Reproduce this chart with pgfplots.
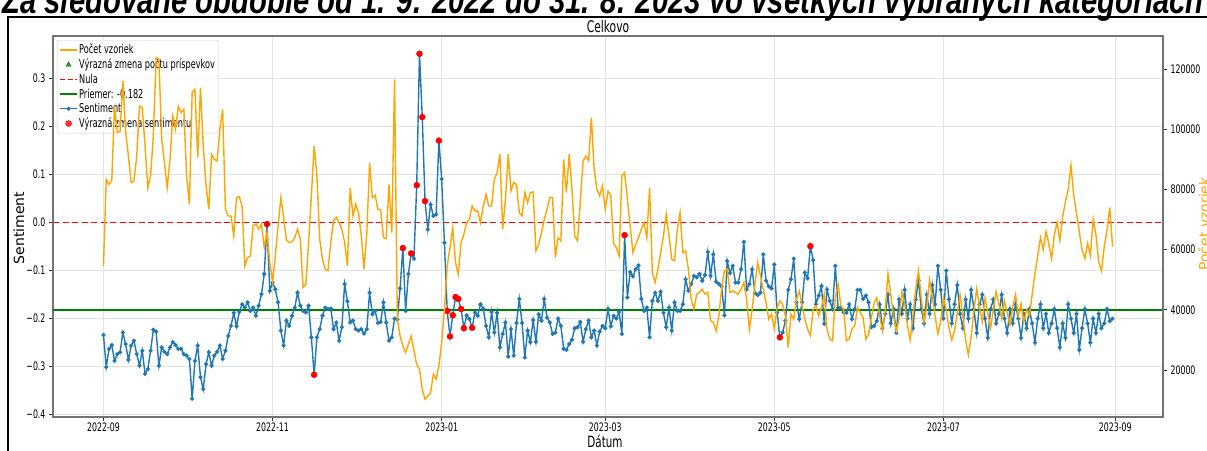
\documentclass[border=0pt]{standalone}
\usepackage{graphicx}
\usepackage{pgfplots}
\usepackage{pgfplotstable}
\pgfplotsset{compat=1.18}
\usepackage{fontspec}
\setmainfont{DejaVu Sans}
\newfontfamily\suptitlefont{Liberation Sans}
\newcommand{\sq}[1]{\scalebox{0.67}[1.0]{#1}}
\definecolor{mplblue}{HTML}{1F77B4}
\definecolor{mplorange}{HTML}{FFA500}
\definecolor{mplgreen}{HTML}{008000}
\definecolor{mplred}{HTML}{FF0000}

\pgfplotstableread{
d s
0 -0.234
1 -0.301
2 -0.263
3 -0.255
4 -0.288
5 -0.274
6 -0.270
7 -0.229
8 -0.253
9 -0.286
10 -0.256
11 -0.246
12 -0.274
13 -0.298
14 -0.267
15 -0.315
16 -0.305
17 -0.267
18 -0.223
19 -0.227
20 -0.298
21 -0.260
22 -0.269
23 -0.274
24 -0.260
25 -0.249
26 -0.255
27 -0.263
28 -0.263
29 -0.274
30 -0.277
31 -0.284
32 -0.367
33 -0.288
34 -0.256
35 -0.322
36 -0.347
37 -0.295
38 -0.270
39 -0.298
40 -0.277
41 -0.269
42 -0.256
43 -0.284
44 -0.267
45 -0.236
46 -0.215
47 -0.188
48 -0.216
49 -0.186
50 -0.170
51 -0.177
52 -0.166
53 -0.184
54 -0.177
55 -0.194
56 -0.173
57 -0.149
58 -0.107
59 -0.003
60 -0.142
61 -0.125
62 -0.139
63 -0.166
64 -0.225
65 -0.256
66 -0.204
67 -0.215
68 -0.194
69 -0.177
70 -0.146
71 -0.173
72 -0.184
73 -0.187
74 -0.173
75 -0.239
76 -0.317
77 -0.239
78 -0.222
79 -0.194
80 -0.177
81 -0.180
82 -0.179
83 -0.222
84 -0.208
85 -0.246
86 -0.218
87 -0.128
88 -0.164
89 -0.208
90 -0.204
91 -0.222
92 -0.225
93 -0.222
94 -0.231
95 -0.222
96 -0.146
97 -0.191
98 -0.184
99 -0.209
100 -0.207
101 -0.166
102 -0.208
103 -0.246
104 -0.239
105 -0.200
106 -0.202
107 -0.137
108 -0.053
109 -0.184
110 -0.107
111 -0.064
112 -0.075
113 0.078
114 0.352
115 0.220
116 0.045
117 -0.014
118 0.038
119 0.014
120 0.017
121 0.171
122 0.091
123 -0.042
124 -0.184
125 -0.237
126 -0.193
127 -0.155
128 -0.159
129 -0.180
130 -0.220
131 -0.193
132 -0.201
133 -0.219
134 -0.187
135 -0.194
136 -0.170
137 -0.179
138 -0.215
139 -0.239
140 -0.186
141 -0.229
142 -0.188
143 -0.260
144 -0.232
145 -0.208
146 -0.279
147 -0.222
148 -0.277
149 -0.209
150 -0.159
151 -0.209
152 -0.281
153 -0.225
154 -0.249
155 -0.203
156 -0.248
157 -0.191
158 -0.204
159 -0.159
160 -0.198
161 -0.208
162 -0.232
163 -0.229
164 -0.200
165 -0.215
166 -0.263
167 -0.265
168 -0.253
169 -0.244
170 -0.220
171 -0.218
172 -0.207
173 -0.248
174 -0.222
175 -0.204
176 -0.239
177 -0.225
178 -0.256
179 -0.227
180 -0.215
181 -0.220
182 -0.180
183 -0.216
184 -0.194
185 -0.200
186 -0.186
187 -0.232
188 -0.026
189 -0.156
190 -0.103
191 -0.112
192 -0.097
193 -0.089
194 -0.159
195 -0.184
196 -0.177
197 -0.239
198 -0.163
199 -0.146
200 -0.163
201 -0.144
202 -0.188
203 -0.218
204 -0.177
205 -0.225
206 -0.166
207 -0.184
208 -0.184
209 -0.170
210 -0.118
211 -0.142
212 -0.128
213 -0.111
214 -0.114
215 -0.107
216 -0.121
217 -0.109
218 -0.061
219 -0.111
220 -0.066
221 -0.123
222 -0.128
223 -0.133
224 -0.193
225 -0.080
226 -0.105
227 -0.090
228 -0.125
229 -0.125
230 -0.097
231 -0.040
232 -0.139
233 -0.128
234 -0.097
235 -0.147
236 -0.151
237 -0.146
238 -0.066
239 -0.121
240 -0.133
241 -0.137
242 -0.087
243 -0.187
244 -0.239
245 -0.229
246 -0.204
247 -0.140
248 -0.118
249 -0.075
250 -0.166
251 -0.201
252 -0.166
253 -0.104
254 -0.116
255 -0.049
256 -0.078
257 -0.170
258 -0.152
259 -0.132
260 -0.211
261 -0.139
262 -0.163
263 -0.180
264 -0.090
265 -0.177
266 -0.177
267 -0.187
268 -0.188
269 -0.170
270 -0.201
271 -0.180
272 -0.140
273 -0.140
274 -0.159
275 -0.152
276 -0.166
277 -0.218
278 -0.215
279 -0.205
280 -0.170
281 -0.220
282 -0.190
283 -0.150
284 -0.210
285 -0.180
286 -0.230
287 -0.160
288 -0.190
289 -0.140
290 -0.200
291 -0.170
292 -0.220
293 -0.160
294 -0.120
295 -0.180
296 -0.210
297 -0.150
298 -0.190
299 -0.130
300 -0.170
301 -0.090
302 -0.140
303 -0.200
304 -0.100
305 -0.160
306 -0.210
307 -0.170
308 -0.130
309 -0.190
310 -0.220
311 -0.160
312 -0.200
313 -0.140
314 -0.180
315 -0.230
316 -0.170
317 -0.150
318 -0.200
319 -0.240
320 -0.180
321 -0.160
322 -0.210
323 -0.190
324 -0.150
325 -0.200
326 -0.230
327 -0.180
328 -0.210
329 -0.170
330 -0.200
331 -0.240
332 -0.190
333 -0.220
334 -0.180
335 -0.210
336 -0.250
337 -0.200
338 -0.170
339 -0.220
340 -0.190
341 -0.230
342 -0.210
343 -0.180
344 -0.220
345 -0.260
346 -0.210
347 -0.240
348 -0.170
349 -0.200
350 -0.230
351 -0.190
352 -0.265
353 -0.220
354 -0.180
355 -0.210
356 -0.250
357 -0.200
358 -0.230
359 -0.190
360 -0.220
361 -0.210
362 -0.180
363 -0.205
364 -0.200
}\sentdata

\pgfplotstableread{
d s
59 -0.003
76 -0.317
108 -0.053
111 -0.064
113 0.078
114 0.352
115 0.220
116 0.045
121 0.171
124 -0.184
125 -0.237
126 -0.193
127 -0.155
128 -0.159
129 -0.180
130 -0.220
133 -0.219
188 -0.026
244 -0.239
255 -0.049
}\reddata

\pgfplotstableread{
d v
0 54600
1 83400
2 81700
3 83000
4 107700
5 98900
6 99400
7 116000
8 99400
9 91100
10 82300
11 82800
12 91100
13 107700
14 107200
15 94500
16 80600
17 84500
18 97800
19 123800
20 123200
21 96700
22 88900
23 80600
24 90000
25 104400
26 100000
27 107700
28 105500
29 106600
30 84500
31 75100
32 112200
33 113300
34 90600
35 113800
36 94500
37 81200
38 73400
39 91700
40 90000
41 89500
42 100000
43 106600
44 73400
45 71200
46 71200
47 64600
48 77300
49 77600
50 74500
51 54600
52 57400
53 57900
54 67900
55 68500
56 66800
57 68500
58 60700
59 65700
60 55700
61 49100
62 57900
63 67900
64 77300
65 70700
66 63200
67 62400
68 62600
69 64000
70 66800
71 63500
72 47400
73 48500
74 62400
75 77900
76 94500
77 84500
78 63500
79 56800
80 53500
81 53000
82 62400
83 69600
84 70700
85 69000
86 66800
87 62400
88 54600
89 80600
90 71200
91 75100
92 72300
93 64600
94 53500
95 65700
96 88900
97 77300
98 78100
99 73400
100 73200
101 64000
102 63700
103 81700
104 65700
105 116600
106 36900
107 31300
108 28000
109 25800
110 28600
111 31300
112 26400
113 21900
114 20300
115 13600
116 10300
117 11400
118 12500
119 18600
120 17000
121 21400
122 29200
123 40200
124 54600
125 60700
126 67300
127 55700
128 51800
129 62400
130 65100
131 69000
132 70100
133 74500
134 72900
135 72900
136 69000
137 74500
138 78400
139 74500
140 74500
141 83400
142 85600
143 91700
144 66800
145 76700
146 91700
147 79500
148 82300
149 81700
150 72300
151 71200
152 79000
153 75600
154 79000
155 79200
156 59600
157 61800
158 65700
159 70100
160 73400
161 77300
162 77300
163 57400
164 64000
165 62900
166 90000
167 79000
168 91700
169 80100
170 64600
171 62900
172 75600
173 89500
174 91100
175 89500
176 103900
177 86700
178 80100
179 77900
180 81200
181 73400
182 79500
183 78000
184 62000
185 60700
186 57900
187 84500
188 85600
189 76700
190 67900
191 59000
192 61800
193 64000
194 66800
195 69000
196 64000
197 80600
198 52400
199 49100
200 53500
201 59000
202 64600
203 71800
204 64600
205 56800
206 56300
207 66800
208 72300
209 59000
210 59600
211 53500
212 43500
213 40200
214 45200
215 45800
216 46900
217 45200
218 45800
219 36400
220 35800
221 33000
222 38000
223 47400
224 53000
225 53500
226 45800
227 46300
228 45800
229 45200
230 46900
231 49100
232 43500
233 33600
234 40200
235 48500
236 55700
237 51300
238 46900
239 42400
240 36900
241 38600
242 33600
243 40800
244 43000
245 41900
246 38000
247 27500
248 38600
249 36900
250 43500
251 46300
252 41300
253 36900
254 33600
255 31400
256 40200
257 41300
258 38000
259 40800
260 45200
261 33600
262 30300
263 29700
264 44100
265 48500
266 41300
267 40200
268 29700
269 30300
270 33600
271 34700
272 40800
273 39100
274 37500
275 30300
276 31900
277 37500
278 42400
279 44000
280 38000
281 33000
282 40000
283 52000
284 45000
285 38000
286 33000
287 37000
288 46000
289 42000
290 35000
291 30000
292 38000
293 47000
294 53000
295 44000
296 36000
297 41000
298 50000
299 44000
300 38000
301 32000
302 36000
303 44000
304 40000
305 34000
306 30000
307 33000
308 39000
309 45000
310 38000
311 30000
312 25000
313 31000
314 40000
315 47000
316 41000
317 36000
318 44000
319 39000
320 34000
321 40000
322 46000
323 42000
324 37000
325 43000
326 39000
327 35000
328 41000
329 45000
330 38000
331 42000
332 36000
333 40000
334 38000
335 45000
336 52000
337 58000
338 64000
339 60000
340 66000
341 62000
342 57000
343 65000
344 69000
345 63000
346 71000
347 76000
348 80000
349 88000
350 78000
351 72000
352 66000
353 60000
354 57000
355 62000
356 58000
357 70000
358 65000
359 56000
360 53000
361 61000
362 66500
363 74000
364 61000
}\countdata

\begin{document}
\begin{tikzpicture}[x=1pt,y=1pt]
\pgfplotsset{
  common/.style={
    scale only axis, width=1110pt, height=381pt,
    at={(53pt,33pt)}, anchor=south west,
    xmin=-18.2, xmax=382.2,
    tick align=outside, major tick length=4pt,
    tick style={black!80, line width=0.8pt},
    ticklabel style={font=\fontsize{11.7}{14}\selectfont},
    axis line style={black!55, line width=1.5pt},
  },
}
\begin{axis}[common,
  ymin=-0.405, ymax=0.389,
  xtick={0,61,122,181,242,303,365},
  xticklabels={\sq{2022-09},\sq{2022-11},\sq{2023-01},\sq{2023-03},\sq{2023-05},\sq{2023-07},\sq{2023-09}},
  xticklabel style={yshift=1.5pt},
  ytick={-0.4,-0.3,-0.2,-0.1,0,0.1,0.2,0.3},
  yticklabels={\sq{−0.4},\sq{−0.3},\sq{−0.2},\sq{−0.1},\sq{0.0},\sq{0.1},\sq{0.2},\sq{0.3}},
  xtick pos=bottom, ytick pos=left,
  grid=major, grid style={gray!22, line width=0.6pt},
  legend cell align=left,
  legend style={at={(0.0036,0.9895)}, anchor=north west,
    draw=black!20, fill=white, fill opacity=0.8, draw opacity=1, text opacity=1,
    rounded corners=2pt, inner sep=2pt,
    font=\fontsize{12.2}{13}\selectfont,
    nodes={inner sep=1.9pt}},
]
\addplot[draw=mplred, line width=1.5pt, dash pattern=on 6pt off 3.5pt, forget plot] coordinates {(-18.2,0) (382.2,0)};
\addplot[draw=mplgreen, line width=1.4pt, forget plot] coordinates {(-18.2,-0.182) (382.2,-0.182)};
\addlegendimage{draw=mplorange, line width=1.6pt}
\addlegendentry[xscale=0.67]{Počet vzoriek}
\addlegendimage{only marks, mark=triangle*, mark size=3pt, color=mplgreen}
\addlegendentry[xscale=0.67]{Výrazná zmena počtu príspevkov}
\addlegendimage{legend image code/.code={\draw[draw=mplred, line width=1.7pt] (0pt,0pt) -- (5pt,0pt) (7.5pt,0pt) -- (12.5pt,0pt) (15pt,0pt) -- (17pt,0pt);}}
\addlegendentry[xscale=0.67]{Nula}
\addlegendimage{color=mplgreen, line width=1.4pt}
\addlegendentry[xscale=0.67]{Priemer: -0.182}
\addplot[mplblue, line width=1.4pt, mark=*, mark size=1.3pt, mark options={fill=mplblue}] table[x=d,y=s]{\sentdata};
\addlegendentry[xscale=0.67]{Sentiment}
\addplot[only marks, mark=*, mark size=3pt, color=mplred, mark options={fill=mplred}] table[x=d,y=s]{\reddata};
\addlegendentry[xscale=0.67]{Výrazná zmena sentimentu}
\end{axis}
\begin{axis}[common,
  axis x line=none, axis y line*=right,
  ymin=4400, ymax=131000,
  ytick={20000,40000,60000,80000,100000,120000},
  yticklabels={\sq{20000},\sq{40000},\sq{60000},\sq{80000},\sq{100000},\sq{120000}},
  scaled y ticks=false,
]
\addplot[mplorange, line width=1.4pt] table[x=d,y=v]{\countdata};
\end{axis}
% labels
\node[font=\fontsize{16}{18}\selectfont] at (608,423) {\sq{Celkovo}};
\node[font=\fontsize{15.5}{17}\selectfont] at (605,9) {\sq{Dátum}};
\node[rotate=90, font=\fontsize{14}{16}\selectfont] at (19,222) {Sentiment};
\node[rotate=90, anchor=north, inner sep=0pt, text=mplorange, font=\fontsize{14}{16}\selectfont] at (1198,226) {Počet vzoriek};
\node[anchor=base, font=\suptitlefont\bfseries\itshape\fontsize{38}{42}\selectfont] at (603,436) {\scalebox{0.77}[1.0]{Za sledované obdobie od 1. 9. 2022 do 31. 8. 2023 vo všetkých vybraných kategóriách}};
\draw[line width=2pt] (8,-5) -- (8,433) -- (1215,433);
\pgfresetboundingbox
\useasboundingbox (0,0) rectangle (1207,450);
\end{tikzpicture}
\end{document}
